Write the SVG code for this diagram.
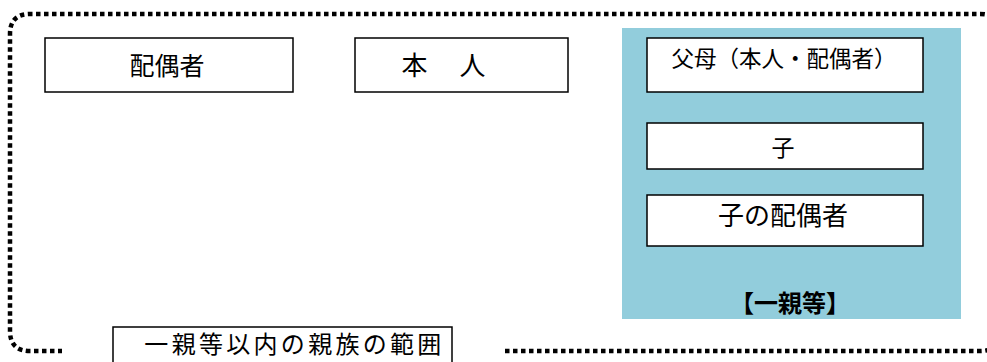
<svg xmlns="http://www.w3.org/2000/svg" width="987" height="362" viewBox="0 0 987 362">
<style>
.box{fill:#ffffff;stroke:#000000;stroke-width:1.5}
.t{font-family:"Noto Sans CJK JP","Noto Sans CJK SC",sans-serif;fill:#000000;text-anchor:middle}
.outline{fill:none;stroke:#000000;stroke-width:4.5;stroke-dasharray:4.5 3.5}
</style>
<rect width="987" height="362" fill="#ffffff"/>
<g id="outline">
<path class="outline" d="M 505 351 H 980 Q 1000 351 1000 331 V 34 Q 1000 14 980 14 H 30 Q 10 14 10 34 V 331 Q 10 351 30 351 H 62"/>
</g>
<g id="panel">
<rect x="622" y="28" width="339" height="291" fill="#92CDDC"/>
<text class="t" x="790" y="312" font-size="24" font-weight="bold">【一親等】</text>
</g>
<g id="spouse">
<rect class="box" x="45" y="38" width="248" height="54"/>
<text class="t" x="167" y="75" font-size="25">配偶者</text>
</g>
<g id="self">
<rect class="box" x="355" y="38" width="213" height="54"/>
<text class="t" x="445" y="75" font-size="26" letter-spacing="3">本　人</text>
</g>
<g id="parents">
<rect class="box" x="647" y="38" width="276" height="54"/>
<text class="t" x="784" y="67" font-size="22.5">父母（本人・配偶者）</text>
</g>
<g id="child">
<rect class="box" x="647" y="123" width="276" height="46"/>
<text class="t" x="783" y="156" font-size="23">子</text>
</g>
<g id="child-spouse">
<rect class="box" x="647" y="195" width="276" height="51"/>
<text class="t" x="783" y="225" font-size="26">子の配偶者</text>
</g>
<g id="range-label">
<rect class="box" x="113" y="327" width="339" height="40"/>
<text class="t" x="294.5" y="353" font-size="24" letter-spacing="3.3">一親等以内の親族の範囲</text>
</g>
<g id="connectors"></g>
</svg>
